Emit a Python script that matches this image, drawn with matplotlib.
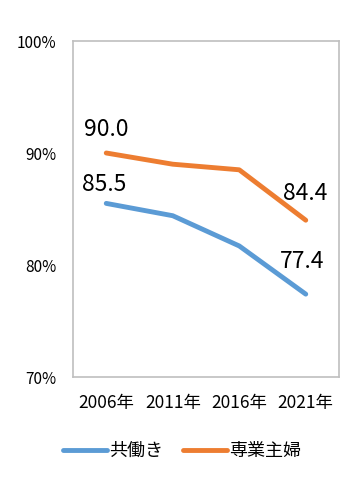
import matplotlib
matplotlib.use("Agg")
import matplotlib.pyplot as plt
from matplotlib.ticker import FuncFormatter

plt.rcParams['font.family'] = ['Noto Sans CJK JP', 'DejaVu Sans']

years = ["2006年", "2011年", "2016年", "2021年"]
dual_income = [85.5, 84.4, 81.7, 77.4]
housewife = [90.0, 89.0, 88.5, 84.0]
dual_labels = ["85.5", "", "", "77.4"]
house_labels = ["90.0", "", "", "84.4"]
series_names = ["共働き", "専業主婦"]

blue = "#5B9BD5"
orange = "#ED7D31"

fig = plt.figure(figsize=(3.61, 4.82), dpi=100)
ax = fig.add_axes([73/361, 105/482, 266/361, 336/482])
x = list(range(len(years)))
ax.plot(x, dual_income, color=blue, lw=3.5, solid_capstyle='round', label=series_names[0])
ax.plot(x, housewife, color=orange, lw=3.5, solid_capstyle='round', label=series_names[1])

ax.set_xlim(-0.5, 3.5)
ax.set_ylim(70, 100)
ax.set_yticks([70, 80, 90, 100])
ax.yaxis.set_major_formatter(FuncFormatter(lambda v, p: f"{v:.0f}%"))
ax.set_xticks(x)
ax.set_xticklabels(years)
ax.tick_params(axis='both', length=0, colors='black')
ax.tick_params(axis='y', pad=12, labelsize=11)
ax.tick_params(axis='x', pad=12, labelsize=12.5)
for s in ax.spines.values():
    s.set_color('#BFBFBF')
    s.set_linewidth(1.2)

# data labels
offs_house = [(0, 24), None, None, (-1, 27)]
offs_dual = [(-2, 19), None, None, (-4, 33)]
for i, (v, t) in enumerate(zip(housewife, house_labels)):
    if t:
        ax.annotate(t, (x[i], v), xytext=offs_house[i], textcoords='offset pixels',
                    ha='center', va='center', fontsize=16.5)
for i, (v, t) in enumerate(zip(dual_income, dual_labels)):
    if t:
        ax.annotate(t, (x[i], v), xytext=offs_dual[i], textcoords='offset pixels',
                    ha='center', va='center', fontsize=16.5)

leg = fig.legend(loc='center', bbox_to_anchor=(0.505, 1 - 451/482), ncol=2, frameon=False,
                 fontsize=13, handlelength=2.4, handletextpad=0.15, columnspacing=1.1)
for h in leg.legend_handles:
    h.set_linewidth(3.5)

fig.savefig("out.png", dpi=100)
